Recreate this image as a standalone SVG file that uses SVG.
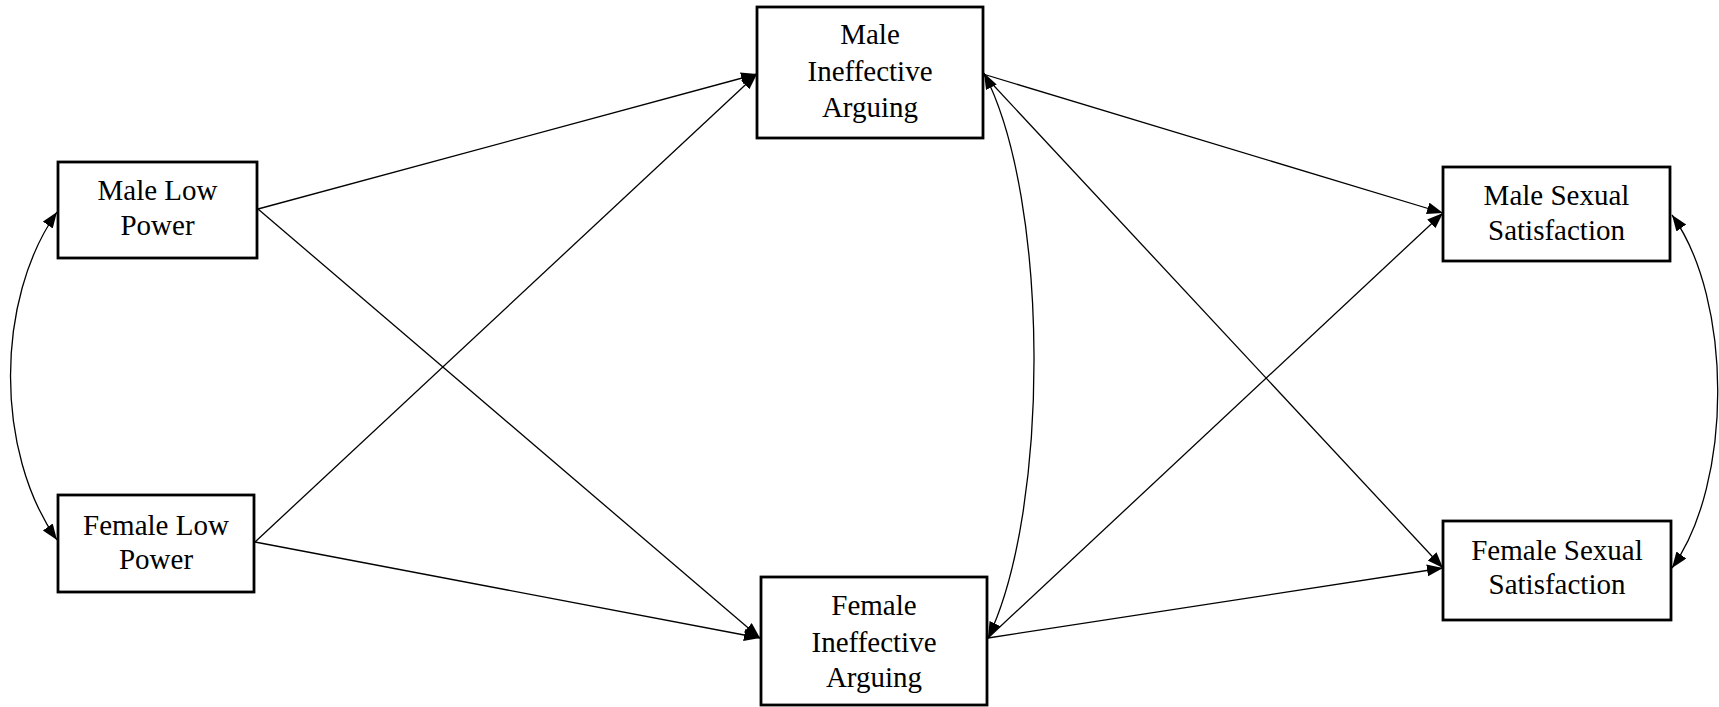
<svg xmlns="http://www.w3.org/2000/svg" width="1719" height="707" viewBox="0 0 1719 707">
<style>
.box{fill:#fff;stroke:#000;stroke-width:2.8}
.lbl{font-family:"Liberation Serif","Times New Roman",serif;font-size:29px;fill:#000;text-anchor:middle}
.ln{fill:none;stroke:#000;stroke-width:1.3}
</style>
<defs>
<marker id="ah" markerUnits="userSpaceOnUse" markerWidth="18" markerHeight="14" refX="16" refY="6" orient="auto-start-reverse">
<path d="M0,0 L16,6 L0,12 z" fill="#000"/>
</marker>
</defs>
<rect width="1719" height="707" fill="#fff"/>
<g id="connectors">
<line class="ln" x1="258" y1="209" x2="757" y2="74" marker-end="url(#ah)"/>
<line class="ln" x1="258" y1="209" x2="760" y2="638" marker-end="url(#ah)"/>
<line class="ln" x1="255" y1="542" x2="757" y2="74" marker-end="url(#ah)"/>
<line class="ln" x1="255" y1="542" x2="760" y2="638" marker-end="url(#ah)"/>
<line class="ln" x1="983" y1="74" x2="1443" y2="213" marker-end="url(#ah)"/>
<line class="ln" x1="983" y1="74" x2="1443" y2="568" marker-end="url(#ah)"/>
<line class="ln" x1="988" y1="638" x2="1443" y2="213" marker-end="url(#ah)"/>
<line class="ln" x1="988" y1="638" x2="1443" y2="568" marker-end="url(#ah)"/>
<path class="ln" d="M57,212 C-5,300 -5,452 57,540" marker-start="url(#ah)" marker-end="url(#ah)"/>
<path class="ln" d="M984,73 C1050,200 1050,510 988,638" marker-start="url(#ah)" marker-end="url(#ah)"/>
<path class="ln" d="M1672,215 C1733,300 1733,483 1672,568" marker-start="url(#ah)" marker-end="url(#ah)"/>
</g>
<g id="male-low-power">
<rect class="box" x="58" y="162" width="199" height="96"/>
<text class="lbl" x="157.5" y="200">Male Low</text>
<text class="lbl" x="157.5" y="235">Power</text>
</g>
<g id="female-low-power">
<rect class="box" x="58" y="495" width="196" height="97"/>
<text class="lbl" x="156" y="535">Female Low</text>
<text class="lbl" x="156" y="569">Power</text>
</g>
<g id="male-ineffective-arguing">
<rect class="box" x="757" y="7" width="226" height="131"/>
<text class="lbl" x="870" y="44">Male</text>
<text class="lbl" x="870" y="81">Ineffective</text>
<text class="lbl" x="870" y="117">Arguing</text>
</g>
<g id="female-ineffective-arguing">
<rect class="box" x="761" y="577" width="226" height="128"/>
<text class="lbl" x="874" y="615">Female</text>
<text class="lbl" x="874" y="652">Ineffective</text>
<text class="lbl" x="874" y="687">Arguing</text>
</g>
<g id="male-sexual-satisfaction">
<rect class="box" x="1443" y="167" width="227" height="94"/>
<text class="lbl" x="1556.5" y="205">Male Sexual</text>
<text class="lbl" x="1556.5" y="240">Satisfaction</text>
</g>
<g id="female-sexual-satisfaction">
<rect class="box" x="1443" y="521" width="228" height="99"/>
<text class="lbl" x="1557" y="560">Female Sexual</text>
<text class="lbl" x="1557" y="594">Satisfaction</text>
</g>
</svg>
